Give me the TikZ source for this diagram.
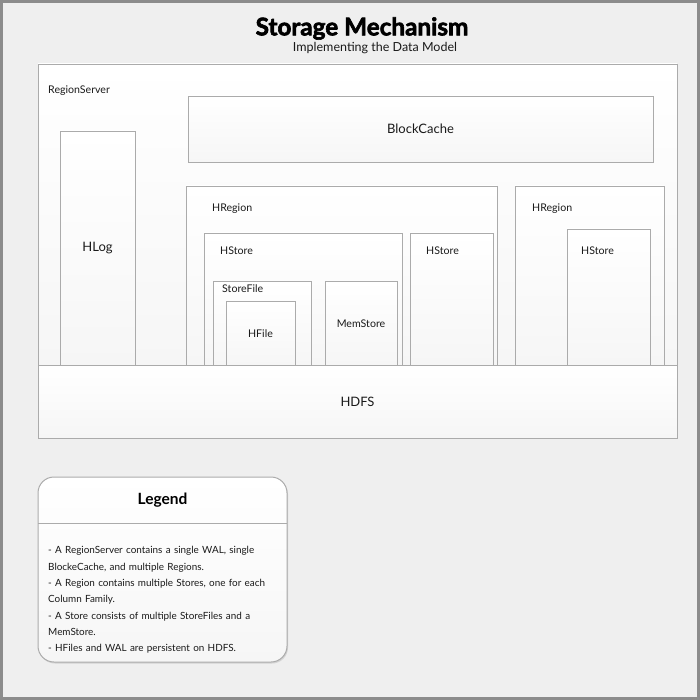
\documentclass[tikz,border=0pt]{standalone}
\usepackage{fontspec}
\setmainfont{Lato}
\newfontfamily\titlefont{Lato}[BoldFeatures={FakeBold=2.5}]
\usetikzlibrary{fit,shadows}
\definecolor{bgc}{HTML}{EFEFEF}
\definecolor{framec}{HTML}{8C8C8C}
\definecolor{boxline}{HTML}{ABABAB}
\definecolor{boxfill}{HTML}{F6F6F6}
\definecolor{txt}{HTML}{1A1A1A}
\tikzset{
  box/.style={draw=boxline, line width=0.9pt, top color=white, bottom color=boxfill, inner sep=0pt},
  lbl/.style={font=\fontsize{10.6}{12}\selectfont, text=txt, anchor=west, inner sep=0pt},
  big/.style={font=\fontsize{13}{15}\selectfont, text=txt, inner sep=0pt},
}
\begin{document}
\begin{tikzpicture}[x=1pt,y=-1pt]
\useasboundingbox (0,0) rectangle (700,700);
\fill[bgc] (0,0) rectangle (700,700);
\draw[framec, line width=3pt] (1.5,1.5) rectangle (698.5,698.5);

\node[font=\fontsize{24.3}{26}\titlefont\bfseries, text=black, inner sep=0pt] (title) at (362,28.5) {Storage Mechanism};
\node[font=\fontsize{12.5}{14}\selectfont, text=txt, inner sep=0pt] (sub) at (375,48) {Implementing the Data Model};

% RegionServer
\node[box, fit={(38,64) (677,365)}] (rs) {};
\node[lbl] (rsl) at (48,90.5) {RegionServer};
% BlockCache
\node[box, fit={(188,96) (653,162)}] (bc) {};
\node[big] at (bc.center) {BlockCache};
% HLog
\node[box, fit={(60,131) (135,365)}] (hlog) {};
\node[big] at (hlog.center) {HLog};
% HRegion 1
\node[box, fit={(186,186) (497,365)}] (hr1) {};
\node[lbl] at (212,209) {HRegion};
\node[box, fit={(204,233) (402,365)}] (hs1) {};
\node[lbl] at (220,250.5) {HStore};
\node[box, fit={(213,281) (311,365)}] (sf) {};
\node[lbl] at (222,289) {StoreFile};
\node[box, fit={(226,301) (295,365)}] (hf) {};
\node[lbl, anchor=center] at (260.5,334) {HFile};
\node[box, fit={(325,281) (397,365)}] (ms) {};
\node[lbl, anchor=center] at (361,324) {MemStore};
\node[box, fit={(410,233) (493,365)}] (hs2) {};
\node[lbl] at (426,250.5) {HStore};
% HRegion 2
\node[box, fit={(515,186) (664,365)}] (hr2) {};
\node[lbl] at (532,209) {HRegion};
\node[box, fit={(567,229) (650,365)}] (hs3) {};
\node[lbl] at (581,250.5) {HStore};
% HDFS
\node[box, fit={(38,365) (677,438)}] (hdfs) {};
\node[big] at (hdfs.center) {HDFS};

% Legend
\node[draw=boxline, line width=1pt, rounded corners=16pt, top color=white, bottom color=boxfill, inner sep=0pt, fit={(38,477) (287,662)}, drop shadow={opacity=0.25, shadow xshift=1pt, shadow yshift=-1.5pt}] (leg) {};
\draw[boxline, line width=0.9pt] (38,523) -- (287,523);
\node[font=\fontsize{15.5}{17}\selectfont\bfseries, text=black] (legt) at (162.5,500) {Legend};
\node[anchor=north west, inner sep=0pt, align=left, text width=240pt, font=\fontsize{9.9}{16.3}\selectfont, text=txt] (legx) at (48,546.5) {%
- A RegionServer contains a single WAL, single\\
BlockeCache, and multiple Regions.\\
- A Region contains multiple Stores, one for each\\
Column Family.\\
- A Store consists of multiple StoreFiles and a\\
MemStore.\\
- HFiles and WAL are persistent on HDFS.};
\end{tikzpicture}
\end{document}
